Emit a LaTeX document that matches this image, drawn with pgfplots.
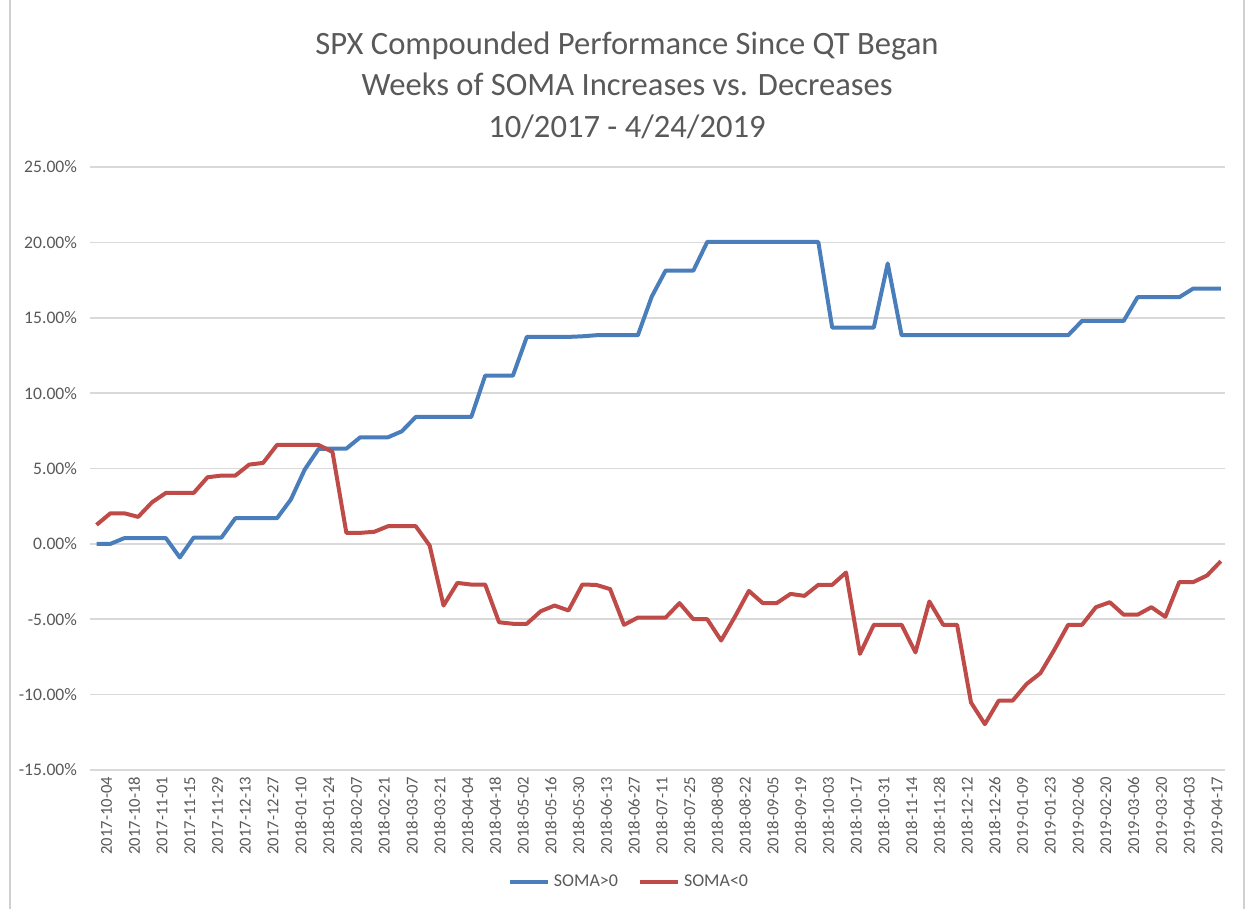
\documentclass[border=0pt]{standalone}
\usepackage{pgfplots}
\pgfplotsset{compat=1.18}
\usepackage{fontspec}
\setmainfont{Carlito}
\definecolor{somablue}{HTML}{4A7EBB}
\definecolor{somared}{HTML}{BE4B48}
\definecolor{gridgray}{HTML}{D9D9D9}
\definecolor{txtgray}{HTML}{595959}
\definecolor{framegray}{HTML}{D0D0D0}
\begin{document}
\begin{tikzpicture}
\path[use as bounding box] (-45pt,-69.5pt) rectangle (581.5pt,385pt);
\draw[framegray, line width=1.2pt] (-40pt,-69.5pt) -- (-40pt,385pt);
\draw[framegray, line width=1.2pt] (577pt,-69.5pt) -- (577pt,385pt);
\node[align=center, text=txtgray, font=\fontsize{16.3}{20.8}\selectfont] at (268.5pt,342.5pt)
  {SPX Compounded Performance Since QT Began\\Weeks of SOMA Increases vs. Decreases\\10/2017 - 4/24/2019};
\begin{axis}[
  at={(0,0)}, anchor=south west,
  width=567.5pt, height=301.5pt, scale only axis,
  xmin=-0.47, xmax=81.3, ymin=-15, ymax=25,
  axis line style={draw=none},
  major tick length=0pt,
  ymajorgrids, grid style={color=gridgray, line width=0.8pt},
  ytick={-15,-10,-5,0,5,10,15,20,25},
  yticklabels={-15.00\%,-10.00\%,-5.00\%,0.00\%,5.00\%,10.00\%,15.00\%,20.00\%,25.00\%},
  yticklabel style={font=\fontsize{8.8}{10}\selectfont, text=txtgray, xshift=-3pt},
  xtick={0,2,...,80},
  xticklabels={2017-10-04,2017-10-18,2017-11-01,2017-11-15,2017-11-29,2017-12-13,2017-12-27,2018-01-10,2018-01-24,2018-02-07,2018-02-21,2018-03-07,2018-03-21,2018-04-04,2018-04-18,2018-05-02,2018-05-16,2018-05-30,2018-06-13,2018-06-27,2018-07-11,2018-07-25,2018-08-08,2018-08-22,2018-09-05,2018-09-19,2018-10-03,2018-10-17,2018-10-31,2018-11-14,2018-11-28,2018-12-12,2018-12-26,2019-01-09,2019-01-23,2019-02-06,2019-02-20,2019-03-06,2019-03-20,2019-04-03,2019-04-17},
  xticklabel style={rotate=90, anchor=east, font=\fontsize{8.3}{9}\selectfont, text=txtgray, yshift=-5pt},
  legend columns=2,
  legend style={at={(0.4758,-0.1857)}, anchor=center, draw=none, fill=none,
    font=\fontsize{9}{10}\selectfont, text=txtgray,
    /tikz/every even column/.append style={column sep=8pt}},
  legend image code/.code={\draw[#1, line width=2pt] (0pt,0pt) -- (19pt,0pt);},
]
\addplot[color=somablue, line width=2pt, line join=round] coordinates {
(0,0.0)(1,0.0)(2,0.38)(3,0.38)(4,0.38)(5,0.38)(6,-0.9)(7,0.42)(8,0.42)(9,0.42)
(10,1.70)(11,1.70)(12,1.70)(13,1.70)(14,2.94)(15,4.93)(16,6.30)(17,6.32)(18,6.32)(19,7.07)
(20,7.07)(21,7.07)(22,7.47)(23,8.42)(24,8.42)(25,8.42)(26,8.42)(27,8.42)(28,11.16)(29,11.16)
(30,11.16)(31,13.73)(32,13.73)(33,13.73)(34,13.73)(35,13.77)(36,13.84)(37,13.84)(38,13.84)(39,13.84)
(40,16.40)(41,18.13)(42,18.13)(43,18.13)(44,20.03)(45,20.03)(46,20.03)(47,20.03)(48,20.03)(49,20.03)
(50,20.03)(51,20.03)(52,20.03)(53,14.35)(54,14.35)(55,14.35)(56,14.35)(57,18.60)(58,13.84)(59,13.84)
(60,13.84)(61,13.84)(62,13.84)(63,13.84)(64,13.84)(65,13.84)(66,13.84)(67,13.84)(68,13.84)(69,13.84)
(70,13.84)(71,14.79)(72,14.79)(73,14.79)(74,14.79)(75,16.36)(76,16.36)(77,16.36)(78,16.36)(79,16.93)
(80,16.93)(81,16.93)
};
\addlegendentry{SOMA>0}
\addplot[color=somared, line width=2pt, line join=round] coordinates {
(0,1.26)(1,2.03)(2,2.03)(3,1.79)(4,2.76)(5,3.38)(6,3.38)(7,3.38)(8,4.42)(9,4.53)
(10,4.53)(11,5.26)(12,5.37)(13,6.56)(14,6.56)(15,6.56)(16,6.56)(17,6.10)(18,0.73)(19,0.73)
(20,0.80)(21,1.17)(22,1.17)(23,1.17)(24,-0.11)(25,-4.09)(26,-2.59)(27,-2.70)(28,-2.70)(29,-5.20)
(30,-5.30)(31,-5.30)(32,-4.47)(33,-4.09)(34,-4.42)(35,-2.70)(36,-2.72)(37,-3.00)(38,-5.37)(39,-4.89)
(40,-4.89)(41,-4.89)(42,-3.93)(43,-5.00)(44,-5.00)(45,-6.41)(46,-4.82)(47,-3.12)(48,-3.93)(49,-3.93)
(50,-3.32)(51,-3.45)(52,-2.72)(53,-2.72)(54,-1.90)(55,-7.30)(56,-5.37)(57,-5.37)(58,-5.37)(59,-7.20)
(60,-3.82)(61,-5.37)(62,-5.37)(63,-10.52)(64,-11.96)(65,-10.40)(66,-10.40)(67,-9.30)(68,-8.58)(69,-7.03)
(70,-5.37)(71,-5.37)(72,-4.20)(73,-3.87)(74,-4.70)(75,-4.70)(76,-4.20)(77,-4.84)(78,-2.54)(79,-2.54)
(80,-2.10)(81,-1.15)
};
\addlegendentry{SOMA<0}
\end{axis}
\end{tikzpicture}
\end{document}
